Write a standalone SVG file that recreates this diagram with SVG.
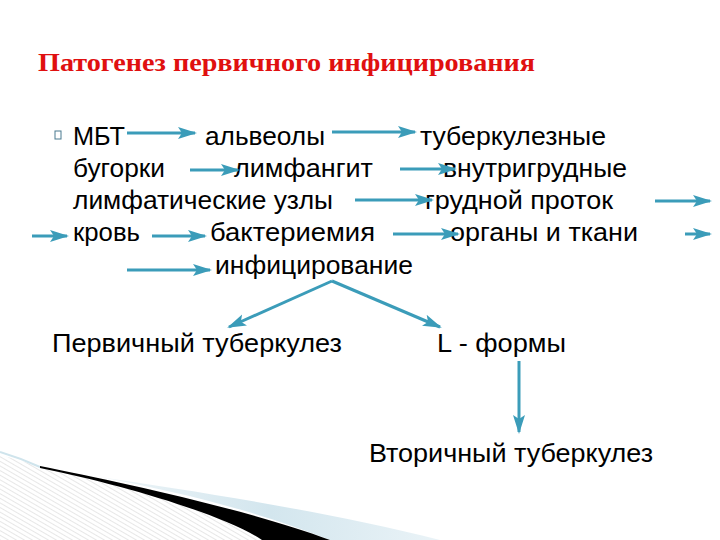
<svg xmlns="http://www.w3.org/2000/svg" width="720" height="540" viewBox="0 0 720 540">
<defs>
<style>
.t{font-family:"Liberation Sans",Arial,sans-serif;font-size:25px;fill:#000}
.title{font-family:"Liberation Serif","Times New Roman",serif;font-size:26px;font-weight:bold;fill:#e01010}
.c{stroke:#3b9cb9;stroke-width:3;fill:none}
</style>
<marker id="ah" markerUnits="userSpaceOnUse" markerWidth="20" markerHeight="14" refX="17" refY="6" orient="auto">
<path d="M0,0 L19,6 L0,12 L4,6 Z" fill="#3b9cb9"/>
</marker>
<pattern id="hatch" patternUnits="userSpaceOnUse" width="4" height="4" patternTransform="rotate(-60)">
<rect width="4" height="4" fill="#ffffff"/>
<line x1="0" y1="0" x2="0" y2="4" stroke="#cfcfcf" stroke-width="1"/>
</pattern>
<linearGradient id="blue" x1="0" y1="0" x2="1" y2="0">
<stop offset="0" stop-color="#eef5f8"/>
<stop offset="0.5" stop-color="#d3e6ee"/>
<stop offset="1" stop-color="#eaf3f7"/>
</linearGradient>
</defs>
<rect width="720" height="540" fill="#ffffff"/>

<g id="decoration">
<path d="M0,455 Q20,460 40,467 C120,484 225,515 262,540 L0,540 Z" fill="url(#hatch)"/>
<path d="M0,452 Q20,458 40,467" stroke="#cfe4ec" stroke-width="2" fill="none"/>
<path d="M100,477 C200,492 330,512 440,540 L330,540 C260,512 180,492 100,477 Z" fill="url(#blue)"/>
<path d="M40,466 C120,482 250,510 330,540 L262,540 C225,515 120,484 40,468 Z" fill="#000000"/>
</g>

<g id="title"><text class="title" x="38" y="71" textLength="497" lengthAdjust="spacingAndGlyphs">Патогенез первичного инфицирования</text></g>

<g id="bullet"><rect x="55" y="131" width="6" height="8" fill="none" stroke="#4a7a90" stroke-width="1"/></g>

<g id="n-mbt"><text class="t" x="73" y="145" textLength="52" lengthAdjust="spacingAndGlyphs">МБТ</text></g>
<g id="n-alveoly"><text class="t" x="205" y="145" textLength="120" lengthAdjust="spacingAndGlyphs">альвеолы</text></g>
<g id="n-tub1"><text class="t" x="420" y="145" textLength="186" lengthAdjust="spacingAndGlyphs">туберкулезные</text></g>
<g id="n-tub2"><text class="t" x="73" y="177" textLength="92" lengthAdjust="spacingAndGlyphs">бугорки</text></g>
<g id="n-limfangit"><text class="t" x="234" y="177" textLength="139" lengthAdjust="spacingAndGlyphs">лимфангит</text></g>
<g id="n-vnutr"><text class="t" x="443" y="177" textLength="184" lengthAdjust="spacingAndGlyphs">внутригрудные</text></g>
<g id="n-limf"><text class="t" x="73" y="209" textLength="260" lengthAdjust="spacingAndGlyphs">лимфатические узлы</text></g>
<g id="n-protok"><text class="t" x="425" y="209" textLength="188" lengthAdjust="spacingAndGlyphs">грудной проток</text></g>
<g id="n-krov"><text class="t" x="73" y="241" textLength="67" lengthAdjust="spacingAndGlyphs">кровь</text></g>
<g id="n-bakt"><text class="t" x="210" y="241" textLength="165" lengthAdjust="spacingAndGlyphs">бактериемия</text></g>
<g id="n-organy"><text class="t" x="450" y="241" textLength="188" lengthAdjust="spacingAndGlyphs">органы и ткани</text></g>
<g id="n-infic"><text class="t" x="215" y="274" textLength="198" lengthAdjust="spacingAndGlyphs">инфицирование</text></g>
<g id="n-perv"><text class="t" x="52" y="352" textLength="290" lengthAdjust="spacingAndGlyphs">Первичный туберкулез</text></g>
<g id="n-lform"><text class="t" x="437" y="352" textLength="129" lengthAdjust="spacingAndGlyphs">L - формы</text></g>
<g id="n-vtor"><text class="t" x="369" y="462" textLength="284" lengthAdjust="spacingAndGlyphs">Вторичный туберкулез</text></g>

<g id="connectors">
<line class="c" x1="127" y1="133" x2="195" y2="133" marker-end="url(#ah)"/>
<line class="c" x1="332" y1="132" x2="415" y2="132" marker-end="url(#ah)"/>
<line class="c" x1="190" y1="170" x2="238" y2="170" marker-end="url(#ah)"/>
<line class="c" x1="400" y1="169" x2="455" y2="169" marker-end="url(#ah)"/>
<line class="c" x1="355" y1="200" x2="432" y2="200" marker-end="url(#ah)"/>
<line class="c" x1="655" y1="201" x2="710" y2="201" marker-end="url(#ah)"/>
<line class="c" x1="32" y1="236" x2="67" y2="236" marker-end="url(#ah)"/>
<line class="c" x1="152" y1="236" x2="205" y2="236" marker-end="url(#ah)"/>
<line class="c" x1="393" y1="234" x2="458" y2="234" marker-end="url(#ah)"/>
<line class="c" x1="685" y1="234" x2="710" y2="234" marker-end="url(#ah)"/>
<line class="c" x1="127" y1="270" x2="210" y2="270" marker-end="url(#ah)"/>
<line class="c" x1="332" y1="281" x2="229" y2="327" marker-end="url(#ah)"/>
<line class="c" x1="332" y1="281" x2="440" y2="327" marker-end="url(#ah)"/>
<line class="c" x1="519" y1="361" x2="519" y2="432" marker-end="url(#ah)"/>
</g>
</svg>
